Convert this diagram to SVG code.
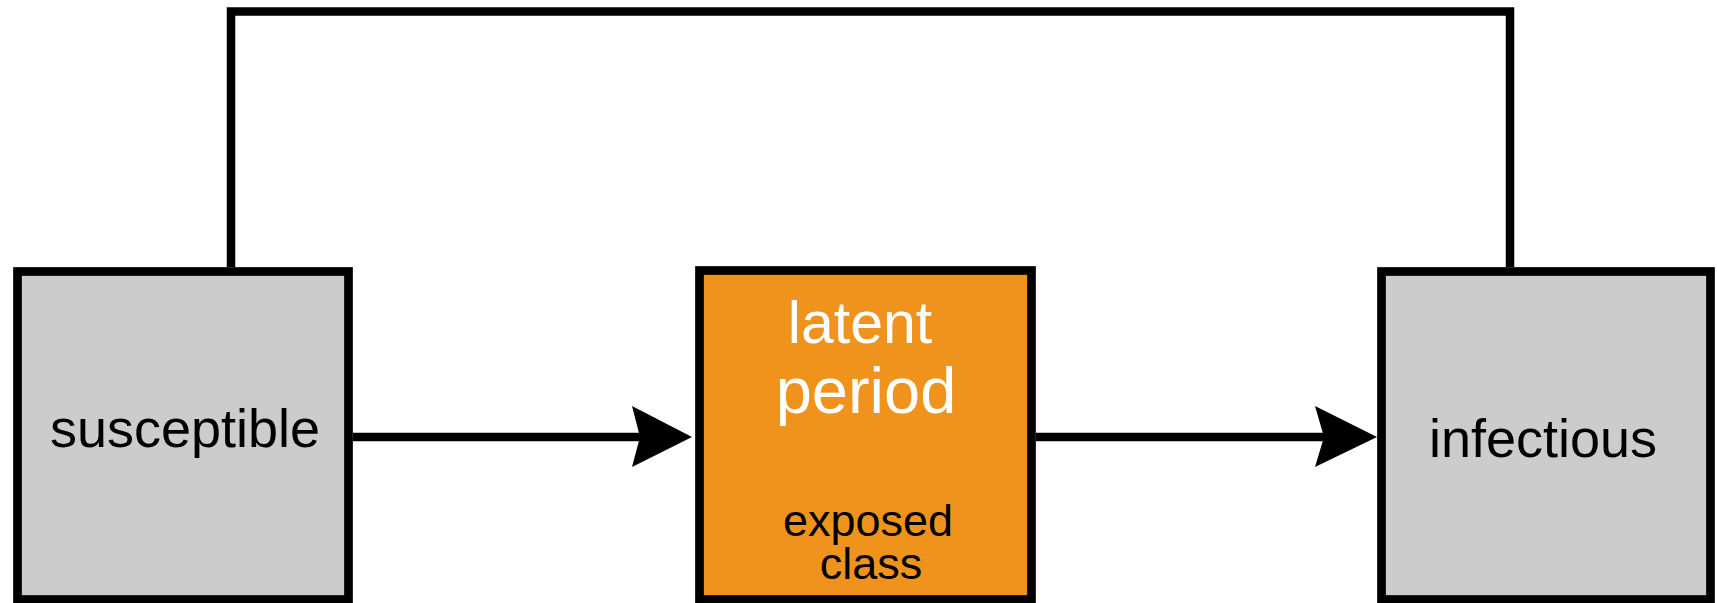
<svg xmlns="http://www.w3.org/2000/svg" width="1717" height="603" viewBox="0 0 1717 603">
<style>
.box{stroke:#000;stroke-width:8.7}
.grey{fill:#cccccc}
.orange{fill:#ef931c}
.lbl{font-family:"Liberation Sans",Arial,sans-serif;text-anchor:middle}
.conn{fill:none;stroke:#000;stroke-width:8.5}
.head{fill:#000;stroke:none}
</style>
<rect width="1717" height="603" fill="#fff"/>
<g id="connectors">
<polyline class="conn" points="231,267 231,11.5 1510,11.5 1510,267"/>
<line class="conn" x1="353" y1="437" x2="641" y2="437"/>
<polygon class="head" points="632,406 692,437 632,467 640,437"/>
<line class="conn" x1="1036" y1="437" x2="1325" y2="437"/>
<polygon class="head" points="1315,406 1377,437 1315,467 1324,437"/>
</g>
<g id="susceptible">
<rect class="box grey" x="17.5" y="271.5" width="331" height="328"/>
<text class="lbl" x="185" y="447" font-size="54">susceptible</text>
</g>
<g id="latent">
<rect class="box orange" x="699.5" y="270.5" width="332" height="329"/>
<text class="lbl" fill="#fff"><tspan x="860" y="343" font-size="59">latent</tspan><tspan x="866" y="413" font-size="65">period</tspan></text>
<text class="lbl" font-size="45" fill="#000"><tspan x="868" y="536">exposed</tspan><tspan x="871" y="579">class</tspan></text>
</g>
<g id="infectious">
<rect class="box grey" x="1381.5" y="271.5" width="329" height="328"/>
<text class="lbl" x="1543" y="457" font-size="54">infectious</text>
</g>
</svg>
